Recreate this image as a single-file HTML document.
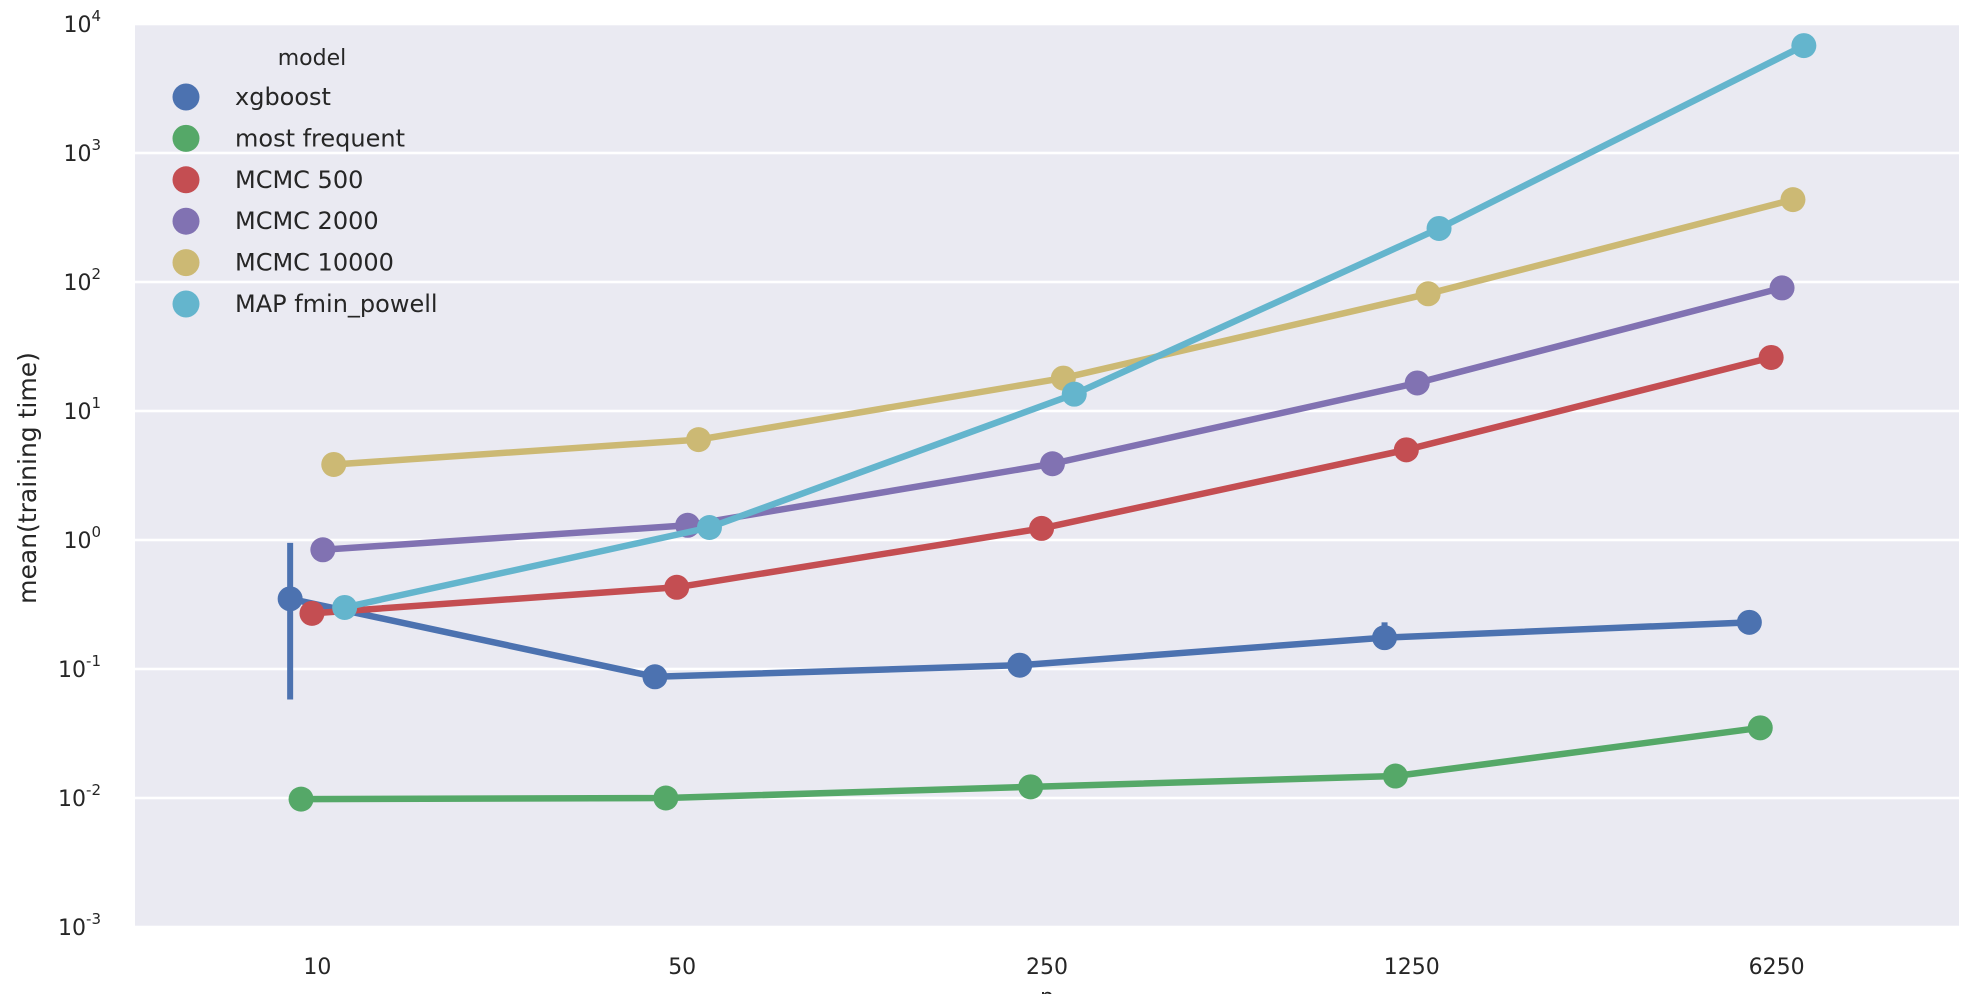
<!DOCTYPE html>
<html><head><meta charset="utf-8"><style>
html,body{margin:0;padding:0;background:#fff;}
svg{display:block;font-family:"DejaVu Sans","Liberation Sans",sans-serif;}
</style></head><body>
<svg id="chart" width="1974" height="994" viewBox="0 0 1974 994" xmlns="http://www.w3.org/2000/svg">
<rect x="135" y="24" width="1824" height="903" fill="#EAEAF2"/>
<g id="grid"></g>
<g id="yticks"></g>
<g id="xticks"></g>
<g id="series"></g>
<text transform="translate(36,478) rotate(-90)" text-anchor="middle" font-size="25" fill="#262626">mean(training time)</text>
<text x="1047" y="1004" text-anchor="middle" font-size="22" fill="#262626">n</text>
<g id="legend">
<text x="312" y="65" text-anchor="middle" font-size="22" fill="#262626">model</text>
</g>
</svg>
<script>
const categories = ["10","50","250","1250","6250"];
const models = ["xgboost","most frequent","MCMC 500","MCMC 2000","MCMC 10000","MAP fmin_powell"];
const colors = ["#4C72B0","#55A868","#C44E52","#8172B2","#CCB974","#64B5CD"];
const xgboost = [0.35,0.087,0.107,0.175,0.23];
const mostFrequent = [0.0098,0.0100,0.0122,0.0148,0.035];
const mcmc500 = [0.27,0.43,1.23,5.0,26];
const mcmc2000 = [0.84,1.3,3.9,16.5,90];
const mcmc10000 = [3.85,6.0,18,81,435];
const mapPowell = [0.30,1.25,13.5,260,6800];
const xgbErrLow = [0.058,null,null,0.145,null];
const xgbErrHigh = [0.95,null,null,0.23,null];
const yTickExps = [-3,-2,-1,0,1,2,3,4];
const seriesValues = [xgboost,mostFrequent,mcmc500,mcmc2000,mcmc10000,mapPowell];

const NS="http://www.w3.org/2000/svg";
const L=135,R=1959,T=24,B=927;
const band=(R-L)/categories.length;
function xScale(i,s){return L+band*(i+0.5)+(s-2.5)*10.9;}
function yScale(v){return T+(4-Math.log10(v))*(B-T)/7;}
function mk(tag,attrs,parent){const e=document.createElementNS(NS,tag);for(const k in attrs)e.setAttribute(k,attrs[k]);parent.appendChild(e);return e;}

const grid=document.getElementById('grid'),yt=document.getElementById('yticks'),xt=document.getElementById('xticks');
yTickExps.forEach(ex=>{
  const y=yScale(Math.pow(10,ex));
  const g=mk('line',{x1:L,x2:R,y1:y,y2:y,stroke:'#fff','stroke-width':2.5},grid);
  
  
  const t=mk('text',{x:101,y:y+8,'text-anchor':'end','font-size':22,fill:'#262626'},yt);
  
  
  t.textContent='10';
  const s=mk('tspan',{dy:-11,'font-size':15},t);
  s.textContent=String(ex).replace('-','-');
});
categories.forEach((c,i)=>{
  const t=mk('text',{x:L+band*(i+0.5),y:974,'text-anchor':'middle','font-size':22,fill:'#262626'},xt);
  
  
  t.textContent=c;
});
const sg=document.getElementById('series');
seriesValues.forEach((vals,s)=>{
  const g=mk('g',{},sg);
  
  
  const pts=vals.map((v,i)=>xScale(i,s)+','+yScale(v)).join(' ');
  const pl=mk('polyline',{points:pts,fill:'none',stroke:colors[s],'stroke-width':6.5,'stroke-linejoin':'round'},g);
  
  
  if(s===0){
    xgbErrLow.forEach((lo,i)=>{
      if(lo===null)return;
      const e=mk('line',{x1:xScale(i,s),x2:xScale(i,s),y1:yScale(lo),y2:yScale(xgbErrHigh[i]),stroke:colors[s],'stroke-width':6},g);
      
      
    });
  }
  vals.forEach((v,i)=>{
    const c=mk('circle',{cx:xScale(i,s),cy:yScale(v),r:12.5,fill:colors[s]},g);
    
    
  });
});
const lg=document.getElementById('legend');
models.forEach((m,i)=>{
  const y=97+i*41.4;
  const g=mk('g',{},lg);
  
  
  mk('circle',{cx:186,cy:y,r:13.5,fill:colors[i]},g);
  const t=mk('text',{x:235,y:y+8,'font-size':24,fill:'#262626'},g);
  t.textContent=m;
});
</script>
</body></html>
